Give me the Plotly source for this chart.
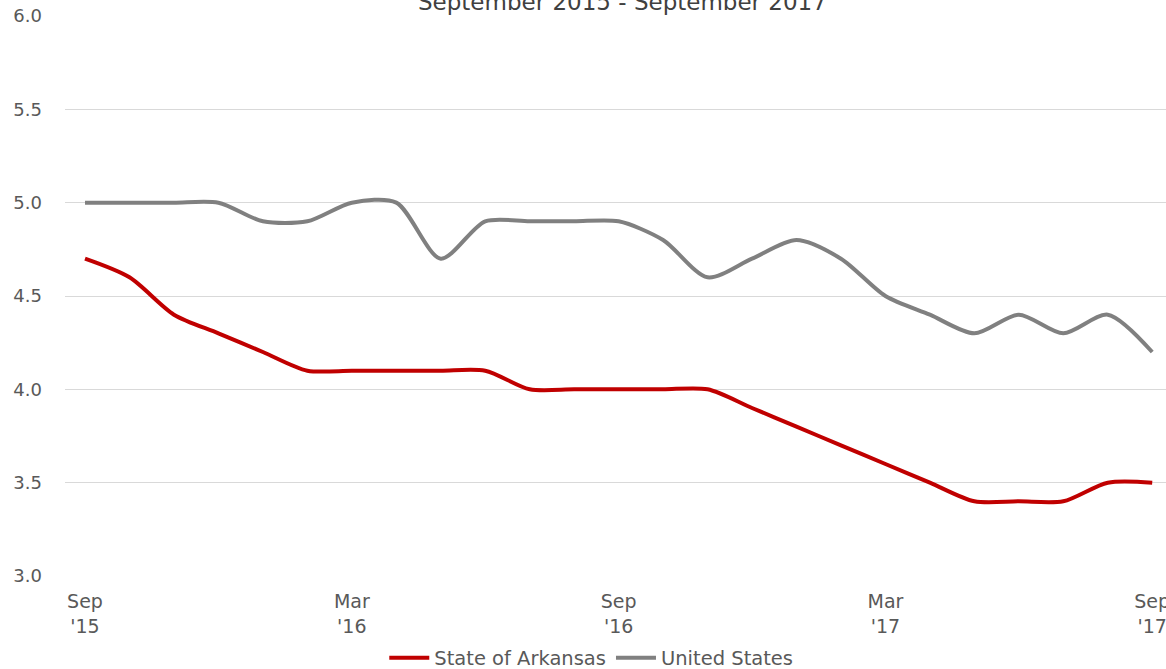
import plotly.graph_objects as go

months = ["Sep '15", "Oct '15", "Nov '15", "Dec '15", "Jan '16", "Feb '16", "Mar '16",
          "Apr '16", "May '16", "Jun '16", "Jul '16", "Aug '16", "Sep '16", "Oct '16",
          "Nov '16", "Dec '16", "Jan '17", "Feb '17", "Mar '17", "Apr '17", "May '17",
          "Jun '17", "Jul '17", "Aug '17", "Sep '17"]
arkansas = [4.7, 4.6, 4.4, 4.3, 4.2, 4.1, 4.1, 4.1, 4.1, 4.1, 4.0, 4.0, 4.0, 4.0, 4.0,
            3.9, 3.8, 3.7, 3.6, 3.5, 3.4, 3.4, 3.4, 3.5, 3.5]
united_states = [5.0, 5.0, 5.0, 5.0, 4.9, 4.9, 5.0, 5.0, 4.7, 4.9, 4.9, 4.9, 4.9, 4.8, 4.6,
                 4.7, 4.8, 4.7, 4.5, 4.4, 4.3, 4.4, 4.3, 4.4, 4.2]
tick_idx = [0, 6, 12, 18, 24]
tick_text = ["Sep<br>'15", "Mar<br>'16", "Sep<br>'16", "Mar<br>'17", "Sep<br>'17"]
y_ticks = [3.0, 3.5, 4.0, 4.5, 5.0, 5.5, 6.0]

x = list(range(len(months)))

fig = go.Figure()
fig.add_trace(go.Scatter(x=x, y=arkansas, name="State of Arkansas", mode="lines",
                         line=dict(color="#C00000", width=4, shape="spline", smoothing=0.8),
                         text=months))
fig.add_trace(go.Scatter(x=x, y=united_states, name="United States", mode="lines",
                         line=dict(color="#808080", width=4, shape="spline", smoothing=0.8),
                         text=months))

font_color = "#595959"
fam = "DejaVu Sans"
fig.update_layout(
    width=1166, height=669,
    margin=dict(l=65, r=0, t=16, b=93),
    paper_bgcolor="white", plot_bgcolor="white",
    font=dict(family=fam, size=17, color=font_color),
    showlegend=True,
    legend=dict(orientation="h", x=0.478, xanchor="center", yref="container",
                y=11 / 669, yanchor="middle",
                font=dict(family=fam, size=19.5, color=font_color),
                traceorder="normal", itemwidth=40),
    xaxis=dict(range=[-0.45, 24.31], tickmode="array", tickvals=tick_idx,
               ticktext=tick_text, showgrid=False, zeroline=False, showline=False,
               ticks="", automargin=False, ticklabelstandoff=12,
               ticklabeloverflow="allow",
               tickfont=dict(family=fam, size=19, color=font_color)),
    yaxis=dict(range=[3.0, 6.0], tickmode="array", tickvals=y_ticks,
               ticktext=[f"{v:.1f}" for v in y_ticks],
               showgrid=True, gridcolor="#D9D9D9", gridwidth=1, zeroline=False,
               showline=False, ticks="", ticklabelstandoff=22, automargin=False,
               ticklabeloverflow="allow",
               tickfont=dict(family=fam, size=18, color=font_color)),
    annotations=[dict(text="September 2015 - September 2017", xref="paper", yref="paper",
                      x=0.506, y=1.0, yshift=14, xanchor="center", yanchor="middle",
                      showarrow=False, font=dict(family=fam, size=23, color="#404040"))],
)

fig.write_html("out.html", config={"displayModeBar": False},
               post_script="document.body.style.margin='0';document.body.style.overflow='hidden';")
